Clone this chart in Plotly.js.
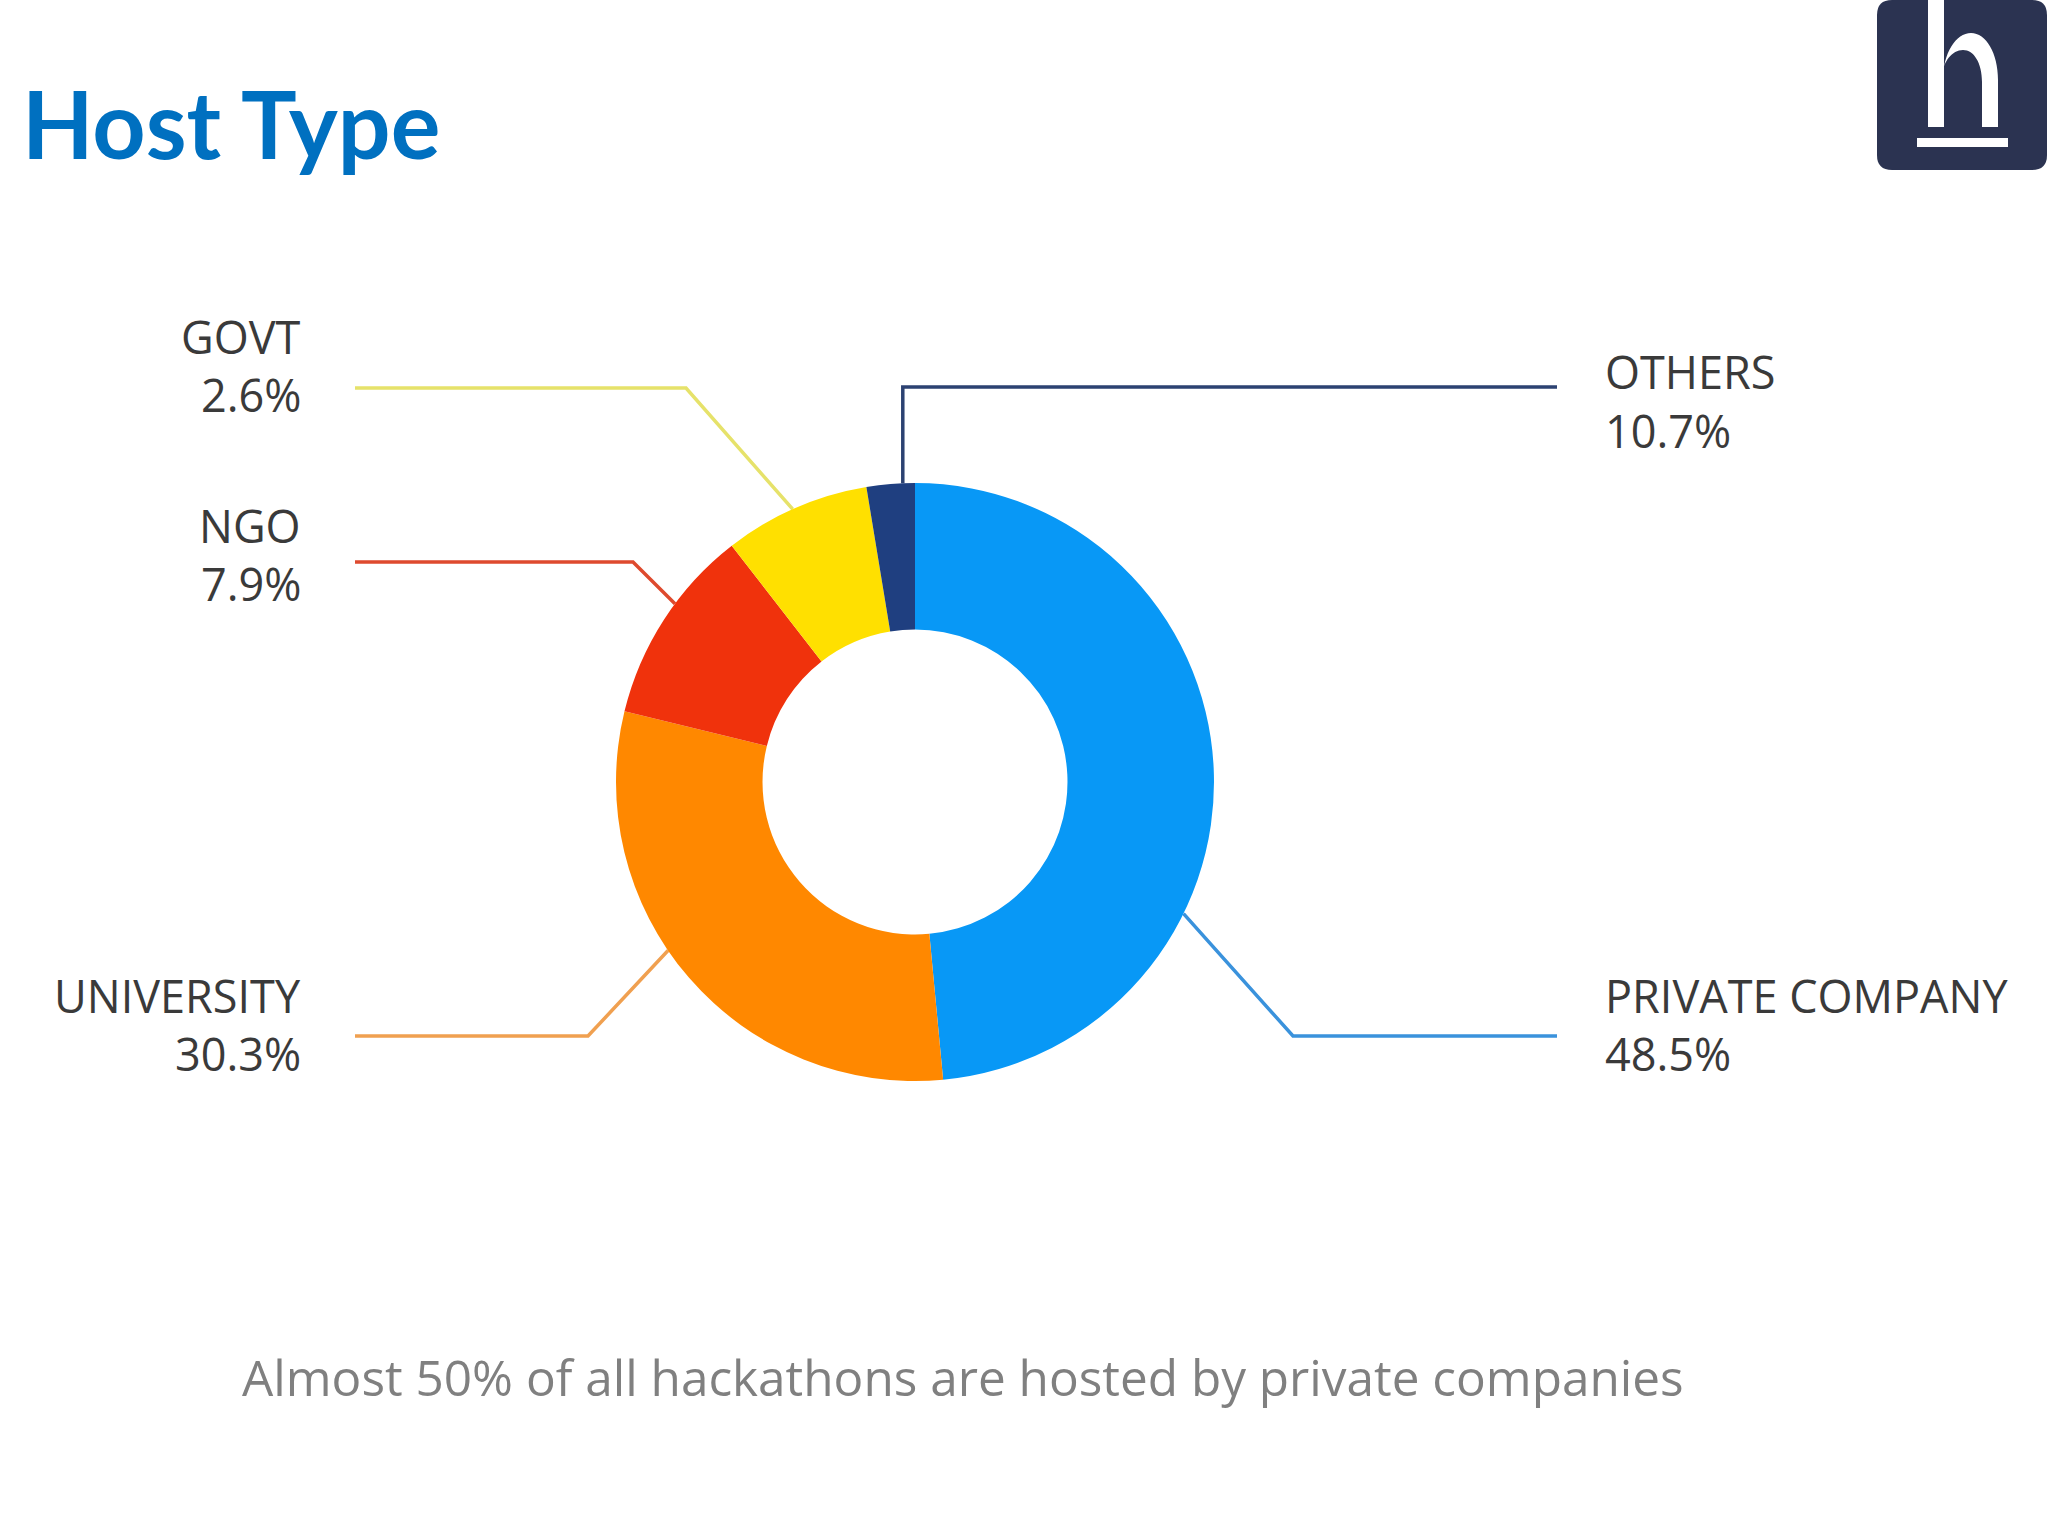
<!DOCTYPE html>
<html>
<head>
<meta charset="utf-8">
<script src="https://cdn.plot.ly/plotly-3.0.1.min.js"></script>
<style>
  html, body { margin: 0; padding: 0; background: #ffffff; }
  #chart { width: 2048px; height: 1536px; }
</style>
</head>
<body>
<div id="chart"></div>
<script>
// ---------------- data ----------------
// ring slices, clockwise from 12 o'clock
const sliceValues = [48.5, 30.3, 10.7, 7.9, 2.6];
const sliceColors = ["#0898F6", "#FF8800", "#F0320C", "#FFE000", "#1F3F80"];
// callout text printed next to each slice's leader line (same order as slices)
const calloutNames = ["PRIVATE COMPANY", "UNIVERSITY", "NGO", "GOVT", "OTHERS"];
const calloutPercents = ["48.5%", "30.3%", "7.9%", "2.6%", "10.7%"];
const calloutLineColors = ["#3A92DC", "#F0A050", "#DE4A2E", "#E6E26A", "#2C4272"];
const titleText = "Host Type";
const captionText = "Almost 50% of all hackathons are hosted by private companies";

// ---------------- layout geometry (pixels) ----------------
const W = 2048, H = 1536;
const pieCx = 915, pieCy = 782, pieR = 299;
const px = x => x / W;
const py = y => 1 - y / H;

// per-callout placement: where on the slice the leader attaches (fraction of its arc),
// elbow, end of the horizontal run, side and text rows
const calloutLayout = [
  {frac: 0.665, elbowX: 1293, lineY: 1036, endX: 1557, side: "right", nameY: 995, pctY: 1053},
  {frac: 0.56,  elbowX: 588,  lineY: 1036, endX: 355,  side: "left",  nameY: 995, pctY: 1053},
  {frac: 0.595, elbowX: 633,  lineY: 562,  endX: 355,  side: "left",  nameY: 525, pctY: 584},
  {frac: 0.48,  elbowX: 686,  lineY: 388,  endX: 355,  side: "left",  nameY: 337, pctY: 395},
  {frac: 0.75,  elbowX: null, lineY: 387,  endX: 1557, side: "right", nameY: 371, pctY: 430}
];
const leftTextX = 303, rightTextX = 1603;

// slice angles (clockwise from top, degrees), derived from values
const total = sliceValues.reduce((a, b) => a + b, 0);
let acc = 0;
const sliceArcs = sliceValues.map(v => {
  const a0 = acc / total * 360;
  acc += v;
  return [a0, acc / total * 360];
});

const shapes = [];
const annotations = [];
const labelFont = {family: "Open Sans, Noto Sans, sans-serif", size: 45, color: "#3A3A3A"};

calloutLayout.forEach((c, i) => {
  const [a0, a1] = sliceArcs[i];
  const th = (a0 + c.frac * (a1 - a0)) * Math.PI / 180;
  const ax = pieCx + pieR * Math.sin(th);
  const ay = pieCy - pieR * Math.cos(th);
  const ex = c.elbowX === null ? ax : c.elbowX;
  shapes.push({
    type: "path", xref: "paper", yref: "paper", layer: "below",
    path: `M ${px(ax)},${py(ay)} L ${px(ex)},${py(c.lineY)} L ${px(c.endX)},${py(c.lineY)}`,
    line: {color: calloutLineColors[i], width: 3.5}
  });
  const tx = c.side === "left" ? leftTextX : rightTextX;
  const xa = c.side === "left" ? "right" : "left";
  annotations.push({
    xref: "paper", yref: "paper", x: px(tx), y: py(c.nameY), xanchor: xa, yanchor: "middle",
    text: calloutNames[i], showarrow: false, font: labelFont
  });
  annotations.push({
    xref: "paper", yref: "paper", x: px(tx), y: py(c.pctY), xanchor: xa, yanchor: "middle",
    text: calloutPercents[i], showarrow: false, font: labelFont
  });
});

// title
annotations.push({
  xref: "paper", yref: "paper", x: px(20), y: py(123), xanchor: "left", yanchor: "middle",
  text: "<b>" + titleText + "</b>", showarrow: false,
  font: {family: "Lato, Open Sans, sans-serif", size: 93, color: "#0070C0"}
});
// caption
annotations.push({
  xref: "paper", yref: "paper", x: px(963), y: py(1377), xanchor: "center", yanchor: "middle",
  text: captionText, showarrow: false,
  font: {family: "Open Sans, Noto Sans, sans-serif", size: 49.5, color: "#808080"}
});

// logo (top-right badge)
const r = 15, L0 = 1877, R0 = 2047, T0 = 0, B0 = 170;
shapes.push({
  type: "path", xref: "paper", yref: "paper", layer: "above",
  path: `M ${px(L0 + r)},${py(T0)} L ${px(R0 - r)},${py(T0)} Q ${px(R0)},${py(T0)} ${px(R0)},${py(T0 + r)} ` +
        `L ${px(R0)},${py(B0 - r)} Q ${px(R0)},${py(B0)} ${px(R0 - r)},${py(B0)} ` +
        `L ${px(L0 + r)},${py(B0)} Q ${px(L0)},${py(B0)} ${px(L0)},${py(B0 - r)} ` +
        `L ${px(L0)},${py(T0 + r)} Q ${px(L0)},${py(T0)} ${px(L0 + r)},${py(T0)} Z`,
  fillcolor: "#2B3351", line: {width: 0}
});
// h stem
shapes.push({
  type: "rect", xref: "paper", yref: "paper", layer: "above",
  x0: px(1928), x1: px(1944), y0: py(0), y1: py(127),
  fillcolor: "#FFFFFF", line: {width: 0}
});
// h arch + right leg
shapes.push({
  type: "path", xref: "paper", yref: "paper", layer: "above",
  path: `M ${px(1943)},${py(80)} C ${px(1943)},${py(53)} ${px(1956)},${py(33)} ${px(1971)},${py(33)} ` +
        `C ${px(1986)},${py(33)} ${px(1998)},${py(53)} ${px(1998)},${py(80)} ` +
        `L ${px(1998)},${py(127)} L ${px(1982)},${py(127)} L ${px(1982)},${py(82)} ` +
        `C ${px(1982)},${py(63)} ${px(1974)},${py(50)} ${px(1963)},${py(50)} ` +
        `C ${px(1952)},${py(50)} ${px(1943)},${py(62)} ${px(1943)},${py(74)} Z`,
  fillcolor: "#FFFFFF", line: {width: 0}
});
// underline
shapes.push({
  type: "rect", xref: "paper", yref: "paper", layer: "above",
  x0: px(1917), x1: px(2008), y0: py(138), y1: py(147),
  fillcolor: "#FFFFFF", line: {width: 0}
});

const trace = {
  type: "pie",
  values: sliceValues,
  labels: calloutNames,
  marker: {colors: sliceColors, line: {width: 0}},
  hole: 0.51,
  sort: false,
  direction: "clockwise",
  rotation: 0,
  textinfo: "none",
  hoverinfo: "none",
  showlegend: false,
  domain: {x: [px(pieCx - pieR), px(pieCx + pieR)], y: [py(pieCy + pieR), py(pieCy - pieR)]}
};

const layout = {
  width: W, height: H,
  margin: {l: 0, r: 0, t: 0, b: 0},
  paper_bgcolor: "#FFFFFF",
  plot_bgcolor: "#FFFFFF",
  showlegend: false,
  shapes: shapes,
  annotations: annotations
};

Plotly.newPlot("chart", [trace], layout, {staticPlot: true, displayModeBar: false});
</script>
</body>
</html>
